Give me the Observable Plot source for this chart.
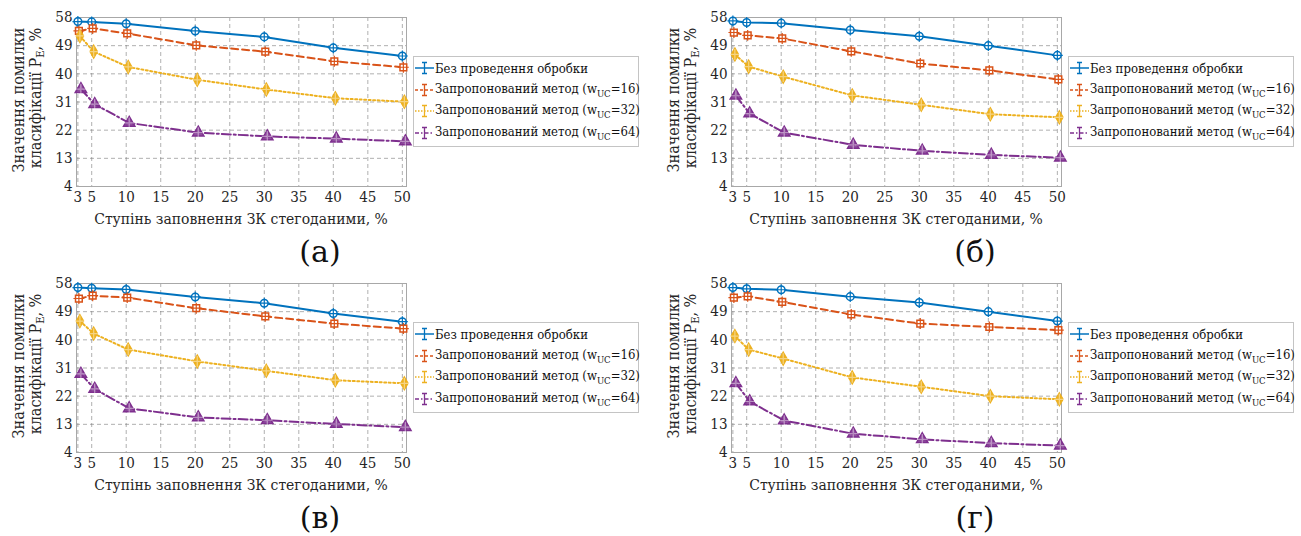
<!DOCTYPE html>
<html>
<head>
<meta charset="utf-8">
<script src="https://cdn.jsdelivr.net/npm/d3@7"></script>
<script src="https://cdn.jsdelivr.net/npm/@observablehq/plot@0.6"></script>
<style>
  html, body { margin: 0; padding: 0; background: #fff; }
  body { width: 1301px; height: 536px; position: relative; overflow: hidden; font-family: "DejaVu Serif Condensed", "DejaVu Serif", serif; font-stretch: condensed; color: #262626; }
  .panel { position: absolute; width: 650px; height: 268px; }
  .panel svg { position: absolute; left: 0; top: 0; }
  .xtitle { position: absolute; left: 76px; width: 330px; top: 210px; text-align: center; font-size: 15.5px; white-space: nowrap; }
  .ytitle { position: absolute; white-space: nowrap; font-size: 16px; transform: translate(-50%, -50%) rotate(-90deg); line-height: 1; }
  .ytitle sub { font-size: 11px; vertical-align: -3px; }
  .legend { position: absolute; left: 413px; top: 56px; width: 224px; height: 89px; border: 1px solid #c4c4c4; background: #fff; font-size: 13px; color: #111; }
  .legend .row { position: absolute; left: 1px; height: 20px; display: flex; align-items: center; white-space: nowrap; }
  .legend sub { font-size: 9.5px; vertical-align: -4px; }
  .legend svg { position: static; margin-right: 1px; }
  .plabel { position: absolute; left: 270px; width: 100px; top: 237px; text-align: center; font-size: 30px; line-height: 1; color: #111; font-stretch: normal; font-family: "DejaVu Serif", serif; }
</style>
</head>
<body>
<script>
// ---------- data ----------
const steps = [3, 5, 10, 20, 30, 40, 50];
const xTicks = [3, 5, 10, 15, 20, 25, 30, 35, 40, 45, 50];
const yTicks = [4, 13, 22, 31, 40, 49, 58];
const xTitle = "Ступінь заповнення ЗК стегоданими, %";
const yTitle1 = "Значення помилки";
const yTitle2 = "класифікації P";
const yTitleSub = "E";
const yTitleEnd = ", %";
const seriesNames = ["Без проведення обробки", "Запропонований метод (w", "Запропонований метод (w", "Запропонований метод (w"];
const seriesWuc = [null, 16, 32, 64];
const panelLabels = ["(а)", "(б)", "(в)", "(г)"];

// panel (а)
const a_none = [56.7, 56.6, 56.0, 53.7, 51.8, 48.3, 45.7];
const a_w16  = [53.7, 54.5, 52.9, 49.1, 47.1, 44.0, 42.1];
const a_w32  = [52.1, 47.1, 42.2, 38.1, 35.0, 32.2, 31.1];
const a_w64  = [35.1, 30.3, 24.3, 21.2, 20.0, 19.3, 18.4];
// panel (б)
const b_none = [56.9, 56.4, 56.2, 54.0, 52.0, 49.0, 45.9];
const b_w16  = [53.2, 52.3, 51.3, 47.2, 43.3, 41.1, 38.2];
const b_w32  = [46.2, 42.3, 39.1, 33.1, 30.1, 27.1, 26.1];
const b_w64  = [33.0, 27.3, 21.2, 17.3, 15.4, 14.1, 13.2];
// panel (в)
const v_none = [56.7, 56.5, 56.1, 53.7, 51.7, 48.4, 45.8];
const v_w16  = [53.2, 54.1, 53.5, 50.1, 47.5, 45.2, 43.6];
const v_w32  = [46.0, 42.0, 36.9, 33.1, 30.1, 27.1, 26.1];
const v_w64  = [29.1, 24.3, 18.1, 15.2, 14.3, 13.1, 12.1];
// panel (г)
const g_none = [56.7, 56.3, 56.0, 53.8, 51.9, 49.0, 46.0];
const g_w16  = [53.5, 53.9, 52.1, 48.1, 45.2, 44.1, 43.1];
const g_w32  = [41.2, 36.9, 34.0, 28.0, 25.0, 22.0, 21.0];
const g_w64  = [26.1, 20.3, 14.2, 10.0, 8.2, 7.0, 6.2];

const panels = [
  [a_none, a_w16, a_w32, a_w64],
  [b_none, b_w16, b_w32, b_w64],
  [v_none, v_w16, v_w32, v_w64],
  [g_none, g_w16, g_w32, g_w64]
];

// ---------- styles ----------
const colors = ["#0072BD", "#D95319", "#EDB120", "#7E2F8E"];
const dashes = [null, "7,4", "2,2.5", "9,3,2,3"];
const symbols = ["circle", "square", "diamond", "triangle"];
const fills = ["white", "white", "#EDB120", "#7E2F8E"];
const dxs = [0, 1, 2, 3];
const FONT = '"DejaVu Serif Condensed", "DejaVu Serif", serif';

function makePlot(seriesArr) {
  const marks = [
    Plot.gridX(xTicks, {stroke: "#7a7a7a", strokeOpacity: 0.75, strokeDasharray: "4,3", strokeWidth: 0.8}),
    Plot.gridY(yTicks, {stroke: "#7a7a7a", strokeOpacity: 0.75, strokeDasharray: "4,3", strokeWidth: 0.8}),
    Plot.frame({stroke: "#a8a8a8", strokeWidth: 1}),
    Plot.axisX(xTicks, {tickSize: 0, tickPadding: 5, label: null, fontSize: 15, fontFamily: FONT}),
    Plot.axisY(yTicks, {tickSize: 0, tickPadding: 4, label: null, fontSize: 15, fontFamily: FONT})
  ];
  seriesArr.forEach((vals, s) => {
    const data = steps.map((x, i) => ({x, y: vals[i]}));
    marks.push(Plot.line(data, {x: "x", y: "y", dx: dxs[s], stroke: colors[s], strokeWidth: 2, strokeDasharray: dashes[s]}));
    marks.push(Plot.dot(data, {x: "x", y: "y", dx: dxs[s], symbol: symbols[s], r: s === 3 ? 4.2 : 3.8, stroke: colors[s], fill: fills[s], fillOpacity: s === 3 ? 0.85 : 1, strokeWidth: 1.5}));
    marks.push(Plot.dot(data, {x: "x", y: "y", dx: dxs[s], symbol: "plus", r: 3.6, stroke: s >= 2 ? "#ffffff" : colors[s], strokeOpacity: s >= 2 ? 0.45 : 1, strokeWidth: 1.2}));
  });
  return Plot.plot({
    width: 650, height: 268,
    marginLeft: 76, marginRight: 244, marginTop: 17, marginBottom: 82,
    style: {fontFamily: FONT, fontSize: "15px", color: "#262626", background: "transparent", fontStretch: "condensed"},
    x: {domain: [2.8, 50.6], label: null},
    y: {domain: [4, 58], label: null},
    marks
  });
}

function legendIcon(s) {
  const ns = "http://www.w3.org/2000/svg";
  const svg = document.createElementNS(ns, "svg");
  svg.setAttribute("width", 19); svg.setAttribute("height", 14);
  const ln = document.createElementNS(ns, "line");
  ln.setAttribute("x1", 0); ln.setAttribute("x2", 19); ln.setAttribute("y1", 7); ln.setAttribute("y2", 7);
  ln.setAttribute("stroke", colors[s]); ln.setAttribute("stroke-width", 1.5);
  if (dashes[s]) ln.setAttribute("stroke-dasharray", s === 1 ? "3,2" : s === 2 ? "1.5,1.5" : "4,2,1.5,2");
  svg.appendChild(ln);
  const eb = document.createElementNS(ns, "path");
  eb.setAttribute("d", "M9.5,1.5V12.5M7,1.5H12M7,12.5H12");
  eb.setAttribute("stroke", colors[s]); eb.setAttribute("stroke-width", 1.3); eb.setAttribute("fill", "none");
  svg.appendChild(eb);
  return svg;
}

panels.forEach((seriesArr, p) => {
  const panel = document.createElement("div");
  panel.className = "panel";
  panel.style.left = (p % 2) * 655 + "px";
  panel.style.top = Math.floor(p / 2) * 266 + "px";
  document.body.appendChild(panel);
  panel.appendChild(makePlot(seriesArr));

  const xt = document.createElement("div");
  xt.className = "xtitle"; xt.textContent = xTitle;
  panel.appendChild(xt);

  const y1 = document.createElement("div");
  y1.className = "ytitle"; y1.style.left = "19px"; y1.style.top = "100px";
  y1.textContent = yTitle1;
  panel.appendChild(y1);
  const y2 = document.createElement("div");
  y2.className = "ytitle"; y2.style.left = "37px"; y2.style.top = "98px";
  y2.append(yTitle2);
  const sub = document.createElement("sub"); sub.textContent = yTitleSub; y2.appendChild(sub);
  y2.append(yTitleEnd);
  panel.appendChild(y2);

  const lg = document.createElement("div");
  lg.className = "legend";
  seriesNames.forEach((name, s) => {
    const row = document.createElement("div");
    row.className = "row";
    row.style.top = (1 + s * 21.5) + "px";
    row.appendChild(legendIcon(s));
    const span = document.createElement("span");
    span.append(name);
    if (seriesWuc[s] !== null) {
      const sb = document.createElement("sub"); sb.textContent = "UC"; span.appendChild(sb);
      span.append("=" + seriesWuc[s] + ")");
    }
    row.appendChild(span);
    lg.appendChild(row);
  });
  panel.appendChild(lg);

  const pl = document.createElement("div");
  pl.className = "plabel"; pl.textContent = panelLabels[p];
  panel.appendChild(pl);
});
</script>
</body>
</html>
